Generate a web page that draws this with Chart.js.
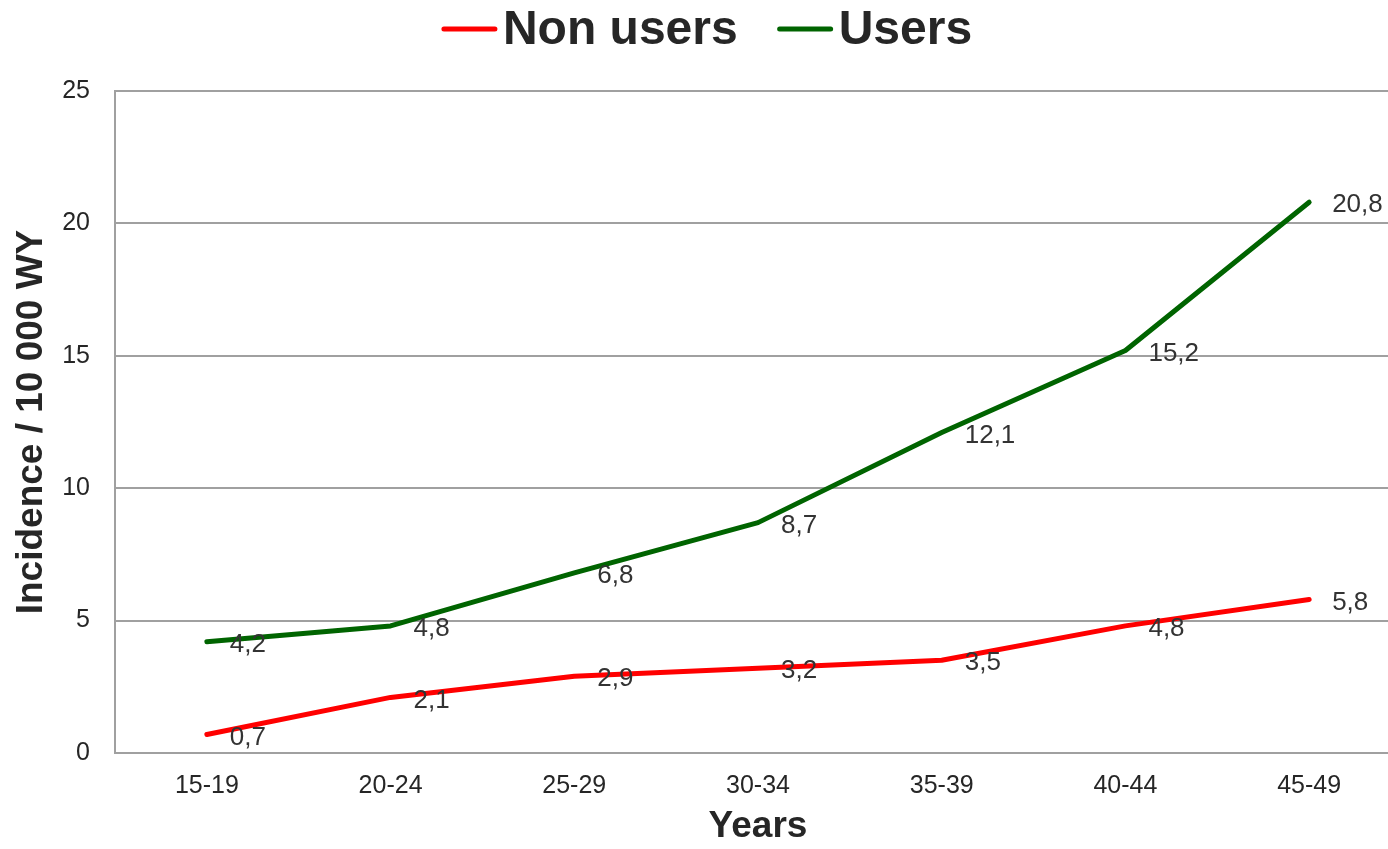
<!DOCTYPE html>
<html>
<head>
<meta charset="utf-8">
<script src="https://cdn.jsdelivr.net/npm/chart.js@4"></script>
<style>
  html, body { margin: 0; padding: 0; background: #fff; overflow: hidden; }
  canvas { display: block; }
</style>
</head>
<body>
<canvas id="incidenceChart" width="1401" height="849"></canvas>
<script>
/* Data */

const ageGroups = ["15-19", "20-24", "25-29", "30-34", "35-39", "40-44", "45-49"];
const nonUsers = [0.7, 2.1, 2.9, 3.2, 3.5, 4.8, 5.8];
const users = [4.2, 4.8, 6.8, 8.7, 12.1, 15.2, 20.8];

const FONT = "'Liberation Sans', Arial, sans-serif";
const TEXT = "#262626";
const GRID = "#a0a0a0";

/* Value labels, written beside each point with a decimal comma */

const valueLabels = {
    id: "valueLabels",
    afterDatasetsDraw(chart) {
        const ctx = chart.ctx;
        ctx.save();
        ctx.font = "26px " + FONT;
        ctx.fillStyle = "#333";
        ctx.textAlign = "left";
        ctx.textBaseline = "middle";
        chart.data.datasets.forEach((ds, i) => {
            chart.getDatasetMeta(i).data.forEach((pt, j) => {
                const txt = ds.data[j].toFixed(1).replace(".", ",");
                ctx.fillText(txt, pt.x + 23, pt.y + 3);
            });
        });
        ctx.restore();
    }
};

/* Legend: short line then bold label */

const lineLegend = {
    id: "lineLegend",
    afterDraw(chart) {
        const ctx = chart.ctx;
        ctx.save();
        ctx.font = "bold 48px " + FONT;
        ctx.textBaseline = "middle";
        const lineW = 55, gap = 6, between = 40;
        const items = chart.data.datasets.map(ds => ({
            label: ds.label,
            color: ds.borderColor,
            w: lineW + gap + ctx.measureText(ds.label).width
        }));
        const total = items.reduce((s, it) => s + it.w, 0) + between * (items.length - 1);
        let x = 707 - total / 2;
        const y = 29;
        items.forEach(it => {
            ctx.strokeStyle = it.color;
            ctx.lineWidth = 5;
            ctx.lineCap = "round";
            ctx.beginPath();
            ctx.moveTo(x + 2, y);
            ctx.lineTo(x + lineW - 2, y);
            ctx.stroke();
            ctx.fillStyle = TEXT;
            ctx.fillText(it.label, x + lineW + gap, y + 2);
            x += it.w + between;
        });
        ctx.restore();
    }
};

/* Chart */

const ctx = document.getElementById("incidenceChart");

new Chart(ctx, {
    type: "line",
    data: {
        labels: ageGroups,
        datasets: [
            {
                label: "Non users",
                data: nonUsers,
                borderColor: "#ff0000",
                backgroundColor: "#ff0000",
                borderWidth: 5,
                borderCapStyle: "round",
                borderJoinStyle: "round",
                pointRadius: 0,
                tension: 0
            },
            {
                label: "Users",
                data: users,
                borderColor: "#006400",
                backgroundColor: "#006400",
                borderWidth: 5,
                borderCapStyle: "round",
                borderJoinStyle: "round",
                pointRadius: 0,
                tension: 0
            }
        ]
    },
    options: {
        responsive: false,
        animation: false,
        layout: { padding: { top: 91, right: 0, bottom: 0, left: 0 } },
        plugins: {
            legend: { display: false },
            tooltip: { enabled: false }
        },
        scales: {
            x: {
                offset: true,
                grid: { display: false, drawTicks: false },
                border: { display: true, color: GRID, width: 2 },
                ticks: { color: TEXT, font: { family: FONT, size: 25 }, padding: 18, maxRotation: 0 },
                title: {
                    display: true,
                    text: "Years",
                    color: TEXT,
                    font: { family: FONT, size: 37, weight: "bold" },
                    padding: { top: 0, bottom: 0 }
                },
                afterFit: s => { s.height = 96; }
            },
            y: {
                min: 0,
                max: 25,
                ticks: { stepSize: 5, color: TEXT, font: { family: FONT, size: 25 }, padding: 25 },
                grid: { color: GRID, lineWidth: 2, drawTicks: false },
                border: { display: true, color: GRID, width: 2 },
                title: {
                    display: true,
                    text: "Incidence / 10 000 WY",
                    color: TEXT,
                    font: { family: FONT, size: 37, weight: "bold" },
                    padding: { top: 10, bottom: 0 }
                },
                afterFit: s => { s.width = 115; }
            }
        }
    },
    plugins: [valueLabels, lineLegend]
});
</script>
</body>
</html>
